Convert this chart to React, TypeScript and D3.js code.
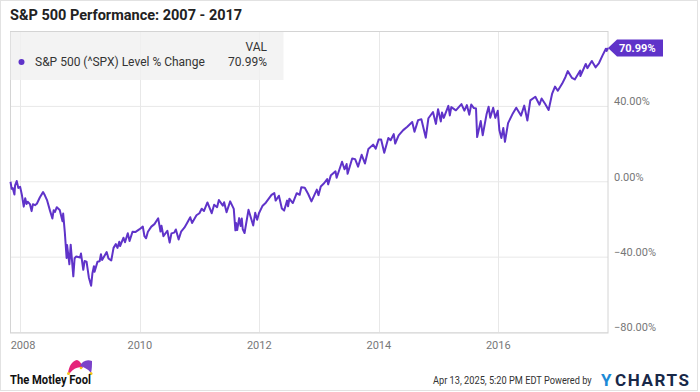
import * as d3 from "d3";
import { useLayoutEffect, useRef, useState } from "react";

const dates = [
  "2007-11-02", "2007-11-09", "2007-11-16", "2007-11-26", "2007-11-30", "2007-12-10", "2007-12-20", "2007-12-31",
  "2008-01-11", "2008-01-22", "2008-01-31", "2008-02-08", "2008-02-15", "2008-02-29", "2008-03-10", "2008-03-18",
  "2008-03-31", "2008-04-11", "2008-04-30", "2008-05-19", "2008-05-30", "2008-06-13", "2008-06-30", "2008-07-15",
  "2008-07-23", "2008-07-31", "2008-08-11", "2008-08-29", "2008-09-15", "2008-09-19", "2008-09-29", "2008-10-10",
  "2008-10-13", "2008-10-27", "2008-11-04", "2008-11-20", "2008-11-28", "2008-12-08", "2008-12-31",
  "2009-01-06", "2009-01-20", "2009-01-28", "2009-02-09", "2009-02-23", "2009-03-09", "2009-03-17", "2009-03-26",
  "2009-03-30", "2009-04-17", "2009-04-30", "2009-05-08", "2009-05-15", "2009-06-12", "2009-06-23", "2009-07-10",
  "2009-07-24", "2009-08-07", "2009-08-17", "2009-08-28", "2009-09-02", "2009-09-23", "2009-10-02", "2009-10-19",
  "2009-10-30", "2009-11-17", "2009-12-04", "2009-12-28",
  "2010-01-19", "2010-01-29", "2010-02-08", "2010-02-19", "2010-03-12", "2010-03-31", "2010-04-23", "2010-05-07",
  "2010-05-13", "2010-05-25", "2010-06-18", "2010-07-02", "2010-07-13", "2010-07-30", "2010-08-09", "2010-08-26",
  "2010-09-10", "2010-09-30", "2010-10-15", "2010-11-05", "2010-11-16", "2010-12-13", "2010-12-31",
  "2011-01-14", "2011-01-28", "2011-02-18", "2011-03-16", "2011-03-31", "2011-04-18", "2011-04-29", "2011-05-23",
  "2011-05-31", "2011-06-15", "2011-07-07", "2011-07-29", "2011-08-08", "2011-08-12", "2011-08-19", "2011-08-31",
  "2011-09-09", "2011-09-16", "2011-09-22", "2011-10-03", "2011-10-27", "2011-11-25", "2011-12-07", "2011-12-19",
  "2011-12-30",
  "2012-01-20", "2012-02-10", "2012-03-16", "2012-04-02", "2012-04-10", "2012-04-30", "2012-05-18", "2012-06-01",
  "2012-06-19", "2012-06-25", "2012-07-03", "2012-07-24", "2012-08-17", "2012-09-04", "2012-09-14", "2012-10-05",
  "2012-10-26", "2012-11-15", "2012-12-18", "2012-12-28",
  "2013-01-11", "2013-01-31", "2013-02-19", "2013-02-25", "2013-03-14", "2013-04-11", "2013-04-18", "2013-05-21",
  "2013-06-05", "2013-06-18", "2013-06-24", "2013-07-22", "2013-08-09", "2013-08-27", "2013-09-18", "2013-10-08",
  "2013-10-29", "2013-11-27", "2013-12-13", "2013-12-31",
  "2014-01-15", "2014-02-03", "2014-02-28", "2014-03-14", "2014-04-02", "2014-04-11", "2014-05-02", "2014-05-30",
  "2014-06-24", "2014-07-24", "2014-08-07", "2014-08-29", "2014-09-18", "2014-10-15", "2014-10-31", "2014-11-28",
  "2014-12-16", "2014-12-29",
  "2015-01-15", "2015-01-22", "2015-02-02", "2015-03-02", "2015-03-11", "2015-03-20", "2015-04-17", "2015-05-21",
  "2015-06-08", "2015-06-23", "2015-07-08", "2015-07-20", "2015-08-05", "2015-08-18", "2015-08-25", "2015-09-16",
  "2015-09-28", "2015-10-22", "2015-11-03", "2015-11-13", "2015-12-01", "2015-12-14", "2015-12-29",
  "2016-01-08", "2016-01-20", "2016-02-01", "2016-02-11", "2016-03-01", "2016-03-31", "2016-04-20", "2016-05-19",
  "2016-06-08", "2016-06-27", "2016-07-15", "2016-08-15", "2016-09-09", "2016-09-22", "2016-10-14", "2016-11-04",
  "2016-11-25", "2016-12-13", "2016-12-30",
  "2017-01-26", "2017-02-15", "2017-03-01", "2017-03-27", "2017-04-13", "2017-05-16", "2017-05-17", "2017-06-19",
  "2017-06-29", "2017-07-26", "2017-08-18", "2017-09-08", "2017-09-29", "2017-10-20", "2017-10-25", "2017-11-02",
];

const pctChange = [
  0.0, -3.7, -3.4, -6.8, -1.9, 0.4, -3.3, -2.7,
  -7.2, -13.2, -8.7, -11.8, -10.6, -11.9, -15.6, -11.9,
  -12.4, -11.7, -8.2, -5.5, -7.2, -9.9, -15.2, -19.5,
  -15.1, -16.0, -13.5, -15.0, -21.0, -16.9, -26.7, -40.4,
  -33.6, -43.8, -33.4, -50.2, -40.6, -39.7, -40.2,
  -38.1, -46.7, -42.1, -42.4, -50.8, -55.2, -48.5, -44.8,
  -47.8, -42.4, -42.2, -38.5, -41.5, -37.3, -40.7, -41.8,
  -35.1, -33.1, -35.1, -31.8, -34.1, -29.7, -32.1, -27.3,
  -31.4, -26.5, -26.7, -25.3,
  -23.8, -28.9, -30.0, -26.5, -23.8, -22.5, -19.4, -26.4,
  -23.3, -28.9, -26.0, -32.3, -27.4, -27.0, -25.3, -30.6,
  -26.5, -24.4, -22.1, -18.8, -21.9, -17.8, -16.7,
  -14.3, -15.5, -11.0, -16.7, -12.2, -13.5, -9.7, -12.7,
  -10.9, -16.2, -10.4, -14.4, -25.8, -21.9, -25.6, -19.3,
  -23.5, -19.5, -25.2, -27.2, -14.9, -23.2, -16.5, -20.2,
  -16.7,
  -12.9, -11.1, -7.0, -6.0, -10.0, -7.4, -14.2, -15.3,
  -10.0, -13.0, -9.0, -11.3, -6.1, -6.9, -2.9, -3.2,
  -6.5, -10.4, -4.2, -7.1,
  -2.5, -0.8, 1.4, -1.4, 3.5, 5.5, 2.1, 10.6,
  6.6, 9.4, 4.2, 12.3, 12.0, 8.0, 14.3, 9.7,
  17.4, 19.7, 17.6, 22.4,
  22.4, 15.4, 23.2, 22.0, 25.3, 20.3, 24.6, 27.4,
  29.2, 31.7, 26.5, 32.7, 33.2, 23.4, 33.7, 37.0,
  30.7, 38.5,
  32.0, 36.7, 33.9, 40.3, 35.2, 39.6, 37.9, 41.2,
  37.7, 40.7, 35.6, 41.0, 39.1, 38.9, 23.7, 32.2,
  24.7, 36.0, 39.8, 34.0, 39.3, 33.9, 37.7,
  27.3, 23.2, 28.5, 21.2, 31.1, 36.4, 39.3, 35.1,
  40.4, 32.5, 43.2, 45.1, 40.9, 44.2, 41.3, 38.1,
  46.6, 50.5, 48.3,
  52.1, 55.6, 58.7, 55.1, 54.3, 59.0, 56.1, 62.5,
  60.3, 64.1, 60.7, 63.0, 66.9, 70.6, 69.4, 70.99,
];

const yTicks = [40, 0, -40, -80];
const xTickYears = [2008, 2010, 2012, 2014, 2016];
const seriesName = "S&P 500 (^SPX) Level % Change";
const lastLabel = "70.99%";
const footerNote = "Apr 13, 2025, 5:20 PM EDT Powered by";

const W = 700;
const H = 392;
const PLOT = { left: 10.5, right: 608, top: 31, bottom: 332.5 };
const PURPLE = "#5f33c9";
const FONT = "Roboto, 'Noto Sans', sans-serif";

// squeeze a text horizontally to a target width (condensed look)
function NarrowText({ x, y, width, children, ...rest }: any) {
  const ref = useRef<SVGTextElement>(null);
  const [sx, setSx] = useState(1);
  useLayoutEffect(() => {
    if (ref.current) {
      const w = ref.current.getComputedTextLength();
      if (w > 0) setSx(width / w);
    }
  }, [width]);
  return (
    <text ref={ref} transform={`translate(${x},${y}) scale(${sx},1)`} {...rest}>
      {children}
    </text>
  );
}

export default function App() {
  const parse = d3.timeParse("%Y-%m-%d");
  const points = dates.map((d, i) => ({ date: parse(d) as Date, v: pctChange[i] }));

  const x = d3
    .scaleTime()
    .domain([parse("2007-11-02") as Date, parse("2017-11-02") as Date])
    .range([PLOT.left, PLOT.right]);
  const y = d3.scaleLinear().domain([-80, 80]).range([PLOT.bottom, PLOT.top]);

  const line = d3
    .line<{ date: Date; v: number }>()
    .x((d) => x(d.date))
    .y((d) => y(d.v))
    .curve(d3.curveLinear);

  const last = points[points.length - 1];
  const lx = x(last.date);
  const ly = y(last.v);

  return (
    <svg
      width={W}
      height={H}
      style={{ position: "absolute", left: 0, top: 0, background: "#fff" }}
      fontFamily={FONT}
    >
      <rect x={0.5} y={0.5} width={W - 3} height={H - 2} fill="#fff" stroke="#e2e2e2" />

      <text x={10} y={20} fontSize={14.5} fontWeight={700} fill="#222">
        S&amp;P 500 Performance: 2007 - 2017
      </text>

      {/* grid */}
      {yTicks.map((t) => (
        <line key={t} x1={PLOT.left} x2={PLOT.right} y1={y(t)} y2={y(t)} stroke="#e8e8e8" />
      ))}
      {xTickYears.map((yr) => {
        const gx = Math.round(x(new Date(yr, 0, 1))) + 0.5;
        return <line key={yr} x1={gx} x2={gx} y1={PLOT.top} y2={PLOT.bottom} stroke="#e8e8e8" />;
      })}
      <rect
        x={PLOT.left}
        y={PLOT.top + 0.5}
        width={PLOT.right - PLOT.left}
        height={PLOT.bottom - PLOT.top}
        fill="none"
        stroke="#d4d4d4"
      />

      {/* axis labels */}
      {yTicks.map((t) => (
        <text key={t} x={614} y={y(t) - 5} dy="0.35em" fontSize={11} fill="#777">
          {d3.format(".2f")(t)}%
        </text>
      ))}
      {xTickYears.map((yr) => {
        const gx = x(new Date(yr, 0, 1));
        return (
          <text key={yr} x={Math.max(gx, 23)} y={345} dy="0.35em" fontSize={11} fill="#777" textAnchor="middle">
            {yr}
          </text>
        );
      })}

      <path d={line(points) ?? ""} fill="none" stroke={PURPLE} strokeWidth={2} strokeLinejoin="round" />

      {/* end flag */}
      <path
        d={`M${lx},${ly} L${lx + 9},${ly - 8.5} L${lx + 55},${ly - 8.5} L${lx + 55},${ly + 8.5} L${lx + 9},${ly + 8.5} Z`}
        fill={PURPLE}
      />
      <text x={lx + 11} y={ly} dy="0.36em" fontSize={11} fontWeight={700} fill="#fff">
        {lastLabel}
      </text>

      {/* legend */}
      <rect x={10.5} y={32} width={273} height={48} fill="#f0f0f0" fillOpacity={0.8} />
      <text x={267} y={47} dy="0.35em" fontSize={12} fill="#333" textAnchor="end">
        VAL
      </text>
      <circle cx={21.5} cy={62} r={3} fill={PURPLE} />
      <text x={35} y={62} dy="0.35em" fontSize={12} fill="#333">
        {seriesName}
      </text>
      <text x={267} y={62} dy="0.35em" fontSize={12} fill="#333" textAnchor="end">
        {lastLabel}
      </text>

      {/* footer: Motley Fool */}
      <path d="M68,373 C69,366 72,361 77,360 C80,361 82,364 83,368 C79,366 74,368 70,373 Z" fill="#e5237a" />
      <path d="M80,366 C82,361 87,359 92,361 C92,365 92,369 91,373 C88,369 84,367 80,366 Z" fill="#7b42c9" />
      <circle cx={68.5} cy={373.5} r={1.5} fill="#f5c21b" />
      <circle cx={91} cy={373.5} r={1.5} fill="#f5c21b" />
      <circle cx={81} cy={368} r={1.3} fill="#f5c21b" />
      <NarrowText x={10} y={384} width={81} fontSize={12.5} fontWeight={700} fill="#111">
        The Motley Fool
      </NarrowText>

      {/* footer: date + YCharts */}
      <NarrowText x={433} y={384} width={159} fontSize={11} fill="#333">
        {footerNote}
      </NarrowText>
      <text x={601} y={385.5} fontSize={17} fontWeight={700} fill="#1c8ad6">
        Y
      </text>
      <text x={615} y={385.5} fontSize={17} fontWeight={700} fill="#182848" letterSpacing={1.6}>
        CHARTS
      </text>
    </svg>
  );
}
